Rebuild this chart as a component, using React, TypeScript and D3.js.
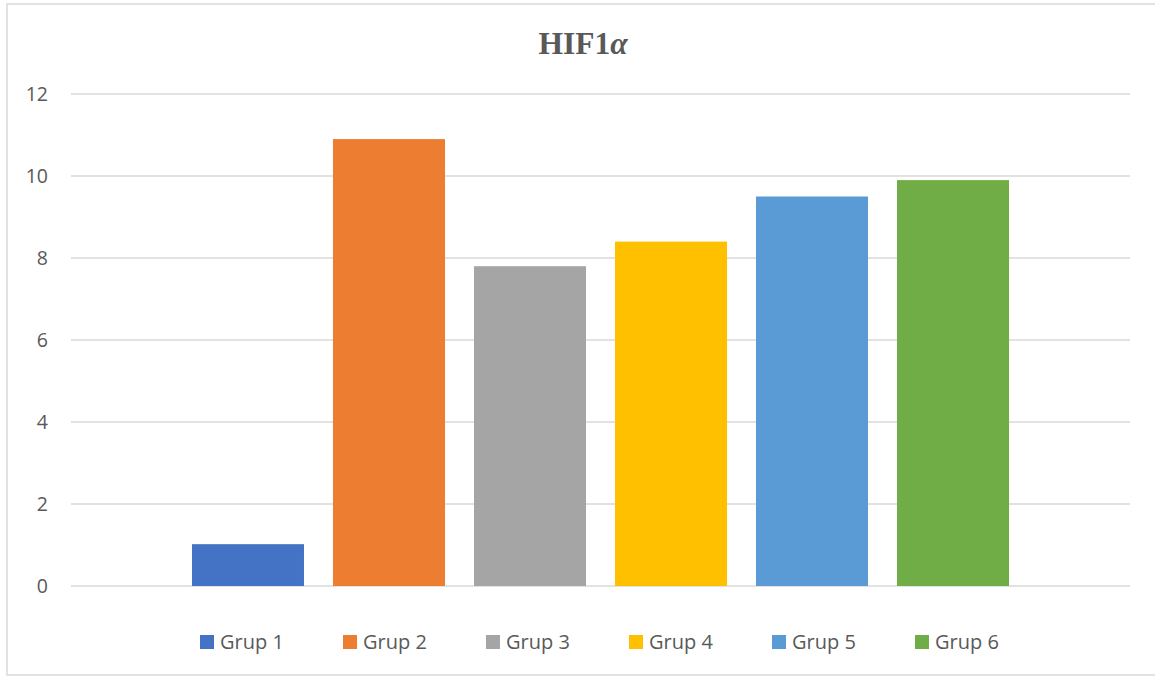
import React from "react";
import * as d3 from "d3";

const groups = ["Grup 1", "Grup 2", "Grup 3", "Grup 4", "Grup 5", "Grup 6"];
const values = [1.02, 10.9, 7.8, 8.4, 9.5, 9.9];
const colors = ["#4472C4", "#ED7D31", "#A5A5A5", "#FFC000", "#5B9BD5", "#70AD47"];
const yTicks = [0, 2, 4, 6, 8, 10, 12];

const W = 1155;
const H = 680;
const plot = { left: 71, right: 1130, top: 94, bottom: 586 };
const textColor = "#595959";
const gridColor = "#D9D9D9";
const font = "'Open Sans', 'Liberation Sans', sans-serif";

export default function App() {
  const y = d3.scaleLinear().domain([0, 12]).range([plot.bottom, plot.top]);
  const x = d3
    .scaleBand<string>()
    .domain(groups)
    .range([plot.left, plot.right])
    .paddingInner(0.2057)
    .paddingOuter(0.858);

  const legendX0 = 200;
  const legendStep = 143;
  const legendY = 642;

  return (
    <div style={{ position: "absolute", left: 0, top: 0 }}>
      <svg width={W} height={H} style={{ display: "block", background: "#fff" }}>
        {/* chart frame */}
        <rect x={7} y={4} width={W + 10} height={671} fill="#fff" stroke={gridColor} strokeWidth={1.5} />

        {/* title */}
        <text
          x={583}
          y={54}
          textAnchor="middle"
          fill={textColor}
          fontFamily="'Liberation Serif', 'DejaVu Serif', serif"
          fontWeight="bold"
          fontSize={31.5}
        >
          HIF1<tspan fontStyle="italic">α</tspan>
        </text>

        {/* gridlines and y labels */}
        {yTicks.map((t) => (
          <g key={t}>
            <line x1={plot.left} x2={plot.right} y1={y(t)} y2={y(t)} stroke={gridColor} strokeWidth={1.5} />
            <text
              x={48}
              y={y(t)}
              dy="0.35em"
              textAnchor="end"
              fill={textColor}
              fontFamily={font}
              fontSize={19.5}
            >
              {t}
            </text>
          </g>
        ))}

        {/* bars */}
        {groups.map((g, i) => (
          <rect
            key={g}
            x={x(g)}
            y={y(values[i])}
            width={x.bandwidth()}
            height={y(0) - y(values[i])}
            fill={colors[i]}
          />
        ))}

        {/* legend */}
        {groups.map((g, i) => (
          <g key={g} transform={`translate(${legendX0 + i * legendStep},${legendY})`}>
            <rect x={0} y={-7} width={14} height={14} fill={colors[i]} />
            <text x={20} y={0} dy="0.35em" fill={textColor} fontFamily={font} fontSize={20}>
              {g}
            </text>
          </g>
        ))}
      </svg>
    </div>
  );
}
